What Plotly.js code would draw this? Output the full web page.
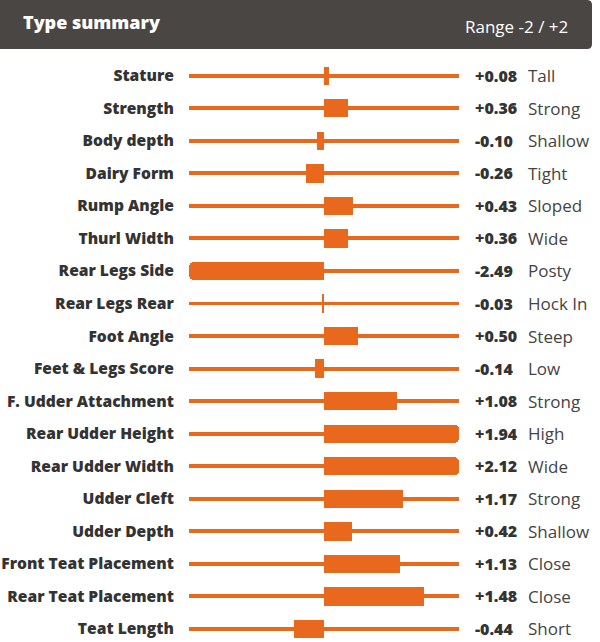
<!DOCTYPE html>
<html>
<head>
<meta charset="utf-8">
<script src="https://cdn.plot.ly/plotly-3.0.1.min.js"></script>
<style>html,body{margin:0;padding:0;background:#fff;}#chart{width:600px;height:642px;}</style>
</head>
<body>
<div id="chart"></div>
<script>
const traits = ["Stature","Strength","Body depth","Dairy Form","Rump Angle","Thurl Width","Rear Legs Side","Rear Legs Rear","Foot Angle","Feet & Legs Score","F. Udder Attachment","Rear Udder Height","Rear Udder Width","Udder Cleft","Udder Depth","Front Teat Placement","Rear Teat Placement","Teat Length"];
const values = [0.08, 0.36, -0.10, -0.26, 0.43, 0.36, -2.49, -0.03, 0.50, -0.14, 1.08, 1.94, 2.12, 1.17, 0.42, 1.13, 1.48, -0.44];
const descriptors = ["Tall","Strong","Shallow","Tight","Sloped","Wide","Posty","Hock In","Steep","Low","Strong","High","Wide","Strong","Shallow","Close","Close","Short"];
const rangeMin = -2, rangeMax = 2;
const titleText = "Type summary";
const rangeText = "Range -2 / +2";

const orange = "#e8691e";
const clamped = values.map(v => Math.max(rangeMin, Math.min(rangeMax, v)));
const fmt = v => (v >= 0 ? "+" : "-") + Math.abs(v).toFixed(2);

const track = {
  type: "bar", orientation: "h", y: traits,
  x: traits.map(() => rangeMax - rangeMin), base: rangeMin,
  width: 0.12, marker: {color: orange, line: {width: 0}},
  hoverinfo: "skip", showlegend: false
};
const bars = {
  type: "bar", orientation: "h", y: traits, x: clamped,
  width: 0.565, marker: {color: orange, line: {width: 0}, cornerradius: 5},
  showlegend: false, hovertemplate: "%{y}: %{customdata}<extra></extra>",
  customdata: values.map(fmt)
};

const annotations = [];
traits.forEach((t, i) => {
  annotations.push({xref: "paper", yref: "y", x: 1, y: t, xshift: 14, xanchor: "left", yanchor: "middle",
    text: fmt(values[i]), showarrow: false,
    font: {family: "Open Sans", size: 16, color: "#333333", weight: 800}});
  annotations.push({xref: "paper", yref: "y", x: 1, y: t, xshift: 67, xanchor: "left", yanchor: "middle",
    text: descriptors[i], showarrow: false,
    font: {family: "Open Sans", size: 17, color: "#444444"}});
});
annotations.push({xref: "paper", yref: "paper", x: -0.6222, y: 1.0473, xanchor: "left", yanchor: "middle",
  text: titleText, showarrow: false, font: {family: "Open Sans", size: 18, color: "#ffffff", weight: 800}});
annotations.push({xref: "paper", yref: "paper", x: 1.4111, y: 1.0389, xanchor: "right", yanchor: "middle",
  text: rangeText, showarrow: false, font: {family: "Open Sans", size: 17, color: "#ffffff"}});

const layout = {
  width: 600, height: 642,
  margin: {l: 189, r: 141, t: 50, b: 0, pad: 0},
  paper_bgcolor: "#ffffff", plot_bgcolor: "#ffffff",
  barmode: "overlay", bargap: 0,
  xaxis: {range: [rangeMin, rangeMax], visible: false, fixedrange: true},
  yaxis: {type: "category", range: [17.40, -0.79], showgrid: false, zeroline: false, showline: false,
    ticks: "outside", ticklen: 11, tickcolor: "rgba(0,0,0,0)", automargin: false, fixedrange: true,
    tickfont: {family: "Open Sans", size: 15.6, color: "#333333", weight: 800}},
  shapes: [{type: "path", xref: "paper", yref: "paper", layer: "below",
    path: "M -0.72,1.0017 L 1.4741,1.0017 Q 1.4926,1.0017 1.4926,1.0101 L 1.4926,1.0760 Q 1.4926,1.0845 1.4741,1.0845 L -0.72,1.0845 Z",
    fillcolor: "#4a4643", line: {width: 0}}],
  annotations: annotations
};

Plotly.newPlot("chart", [track, bars], layout, {displayModeBar: false, staticPlot: true});
</script>
</body>
</html>
